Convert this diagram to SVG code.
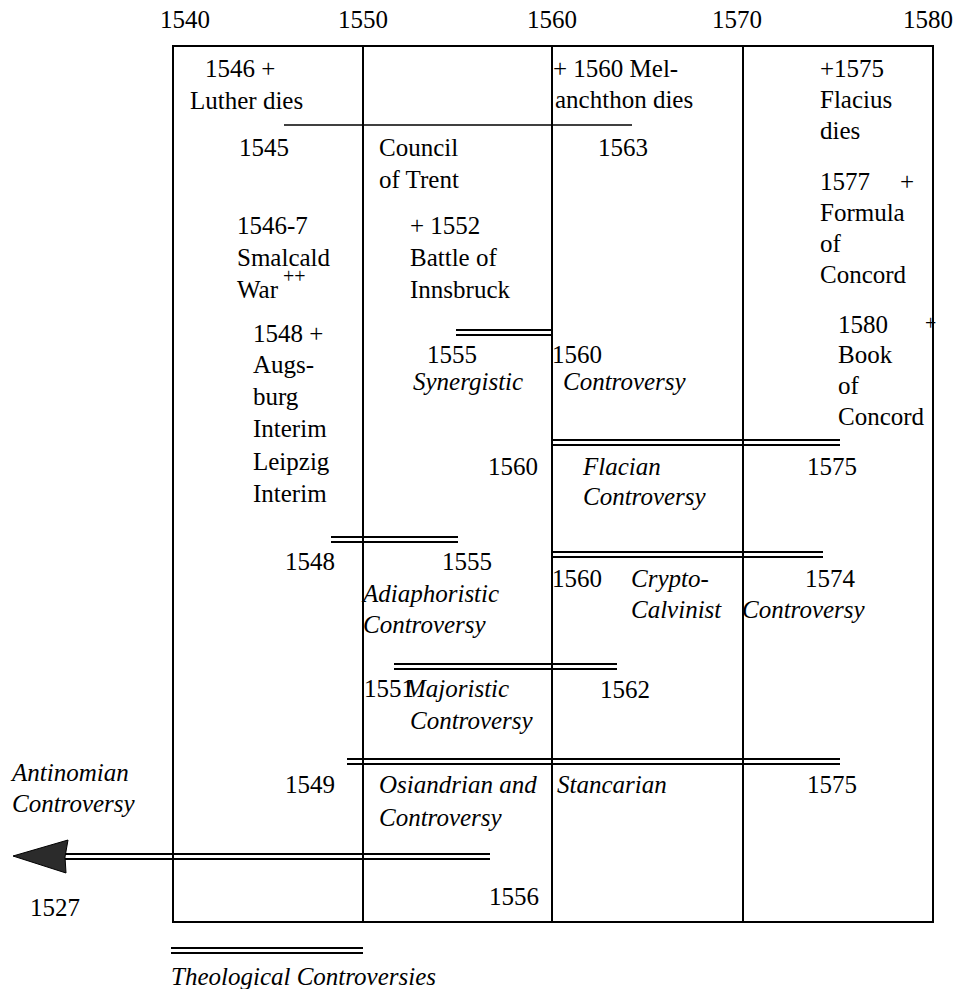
<svg xmlns="http://www.w3.org/2000/svg" width="956" height="989" viewBox="0 0 956 989">
<style>
.t{font-family:"Liberation Serif","Times New Roman",serif;font-size:25px;fill:#000}
.i{font-style:italic}
.sm{font-size:20px}
.grid{stroke:#000;stroke-width:2;fill:none}
.thin{stroke:#000;stroke-width:1.6;fill:none}
.bar{stroke:#000;stroke-width:2;fill:none}
</style>
<rect width="956" height="989" fill="#fff"/>
<g id="axis">
<text class="t" x="160" y="28">1540</text>
<text class="t" x="338" y="28">1550</text>
<text class="t" x="527" y="28">1560</text>
<text class="t" x="712" y="28">1570</text>
<text class="t" x="903" y="28">1580</text>
</g>
<g id="frame">
<rect class="grid" x="173" y="46" width="760" height="876"/>
<line class="grid" x1="363" y1="46" x2="363" y2="922"/>
<line class="grid" x1="552" y1="46" x2="552" y2="922"/>
<line class="grid" x1="743" y1="46" x2="743" y2="922"/>
</g>
<g id="connectors">
<line class="thin" x1="284" y1="125" x2="632" y2="125"/>
<path class="bar" d="M456 330H552M456 335H552"/>
<path class="bar" d="M552 440H840M552 445H840"/>
<path class="bar" d="M331 537H458M331 542H458"/>
<path class="bar" d="M552 552H823M552 557H823"/>
<path class="bar" d="M394 664H617M394 669H617"/>
<path class="bar" d="M347 759H840M347 764H840"/>
<path class="bar" d="M62 854H490M62 859H490"/>
<path d="M13 856L68 840L65 857L66 873Z" fill="#2b2b2b" stroke="#000" stroke-width="1"/>
<path class="bar" d="M171 948H363M171 953H363"/>
</g>
<g id="luther">
<text class="t" x="205" y="77">1546 +</text>
<text class="t" x="190" y="109">Luther dies</text>
</g>
<g id="melanchthon">
<text class="t" x="553" y="77">+ 1560 Mel-</text>
<text class="t" x="555" y="108">anchthon dies</text>
</g>
<g id="flacius">
<text class="t" x="820" y="77">+1575</text>
<text class="t" x="820" y="108">Flacius</text>
<text class="t" x="820" y="139">dies</text>
</g>
<g id="trent">
<text class="t" x="239" y="156">1545</text>
<text class="t" x="379" y="156">Council</text>
<text class="t" x="379" y="188">of Trent</text>
<text class="t" x="598" y="156">1563</text>
</g>
<g id="formula">
<text class="t" x="820" y="190">1577</text>
<text class="t" x="900" y="190">+</text>
<text class="t" x="820" y="221">Formula</text>
<text class="t" x="820" y="252">of</text>
<text class="t" x="820" y="283">Concord</text>
</g>
<g id="smalcald">
<text class="t" x="237" y="234">1546-7</text>
<text class="t" x="237" y="266">Smalcald</text>
<text class="t" x="237" y="298">War</text>
<text class="t sm" x="283" y="283">++</text>
</g>
<g id="innsbruck">
<text class="t" x="410" y="234">+ 1552</text>
<text class="t" x="410" y="266">Battle of</text>
<text class="t" x="410" y="298">Innsbruck</text>
</g>
<g id="book">
<text class="t" x="838" y="333">1580</text>
<text class="t sm" x="925" y="330">+</text>
<text class="t" x="838" y="363">Book</text>
<text class="t" x="838" y="394">of</text>
<text class="t" x="838" y="425">Concord</text>
</g>
<g id="augsburg">
<text class="t" x="253" y="342">1548 +</text>
<text class="t" x="253" y="373">Augs-</text>
<text class="t" x="253" y="405">burg</text>
<text class="t" x="253" y="437">Interim</text>
<text class="t" x="253" y="470">Leipzig</text>
<text class="t" x="253" y="502">Interim</text>
</g>
<g id="synergistic">
<text class="t" x="427" y="363">1555</text>
<text class="t i" x="413" y="390">Synergistic</text>
<text class="t" x="552" y="363">1560</text>
<text class="t i" x="563" y="390">Controversy</text>
</g>
<g id="flacian">
<text class="t" x="488" y="475">1560</text>
<text class="t i" x="583" y="475">Flacian</text>
<text class="t i" x="583" y="505">Controversy</text>
<text class="t" x="807" y="475">1575</text>
</g>
<g id="adiaphoristic">
<text class="t" x="285" y="570">1548</text>
<text class="t" x="442" y="570">1555</text>
<text class="t i" x="363" y="602">Adiaphoristic</text>
<text class="t i" x="363" y="633">Controversy</text>
</g>
<g id="crypto">
<text class="t" x="552" y="587">1560</text>
<text class="t i" x="631" y="587">Crypto-</text>
<text class="t i" x="631" y="618">Calvinist</text>
<text class="t i" x="742" y="618">Controversy</text>
<text class="t" x="805" y="587">1574</text>
</g>
<g id="majoristic">
<text class="t" x="364" y="697">1551</text>
<text class="t i" x="405" y="697">Majoristic</text>
<text class="t i" x="410" y="729">Controversy</text>
<text class="t" x="600" y="698">1562</text>
</g>
<g id="osiandrian">
<text class="t" x="285" y="793">1549</text>
<text class="t i" x="379" y="793">Osiandrian and</text>
<text class="t i" x="379" y="826">Controversy</text>
<text class="t i" x="557" y="793">Stancarian</text>
<text class="t" x="807" y="793">1575</text>
</g>
<g id="antinomian">
<text class="t i" x="12" y="781">Antinomian</text>
<text class="t i" x="12" y="812">Controversy</text>
<text class="t" x="30" y="916">1527</text>
<text class="t" x="489" y="905">1556</text>
</g>
<g id="legend">
<text class="t i" x="171" y="985">Theological Controversies</text>
</g>
</svg>
